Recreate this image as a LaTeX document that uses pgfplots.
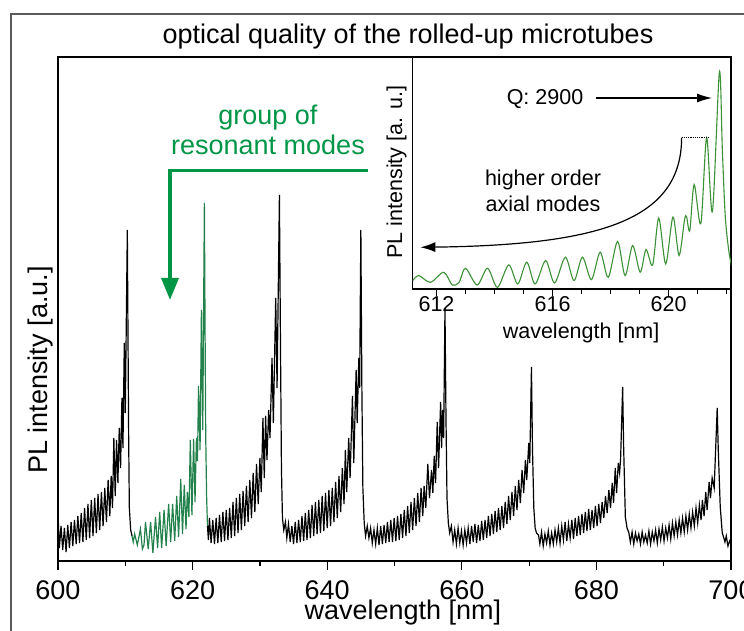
\documentclass[border=0pt]{standalone}
\usepackage{pgfplots}
\pgfplotsset{compat=1.18}
\usepackage{fontspec}
\setmainfont{Liberation Sans}
\usetikzlibrary{arrows.meta}
\definecolor{annot}{RGB}{0,150,70}
\definecolor{maingreen}{RGB}{35,130,75}
\definecolor{insetgreen}{RGB}{60,145,55}
\definecolor{framegray}{RGB}{90,90,90}
\newcommand\bigf{\fontsize{27}{30}\selectfont}
\newcommand\smallf{\fontsize{21.5}{25.5}\selectfont}
\begin{document}
\begin{tikzpicture}[x=1pt,y=1pt]
\draw[framegray, line width=1.5pt] (11,-30) rectangle (800,616);
\begin{axis}[
  at={(58pt,69pt)}, anchor=south west, scale only axis,
  width=673pt, height=504pt,
  xmin=600, xmax=700, ymin=27, ymax=531,
  xtick={600,620,640,660,680,700},
  minor xtick={610,630,650,670,690},
  ytick=\empty, xtick pos=bottom, tick align=outside,
  major tick length=9pt, minor tick length=5pt,
  every tick/.style={black, line width=1.2pt},
  axis line style={line width=1.3pt},
  /pgf/number format/assume math mode=true,
  xticklabel style={font=\bigf, anchor=base, inner sep=0pt, yshift=-29pt},
  title={optical quality of the rolled-up microtubes},
  title style={font=\bigf, at={(axis description cs:0.52,1.0139)}, anchor=base},
  xlabel={wavelength [nm]},
  xlabel style={font=\bigf, inner sep=0pt, at={(axis description cs:0.5126,-0.117)}, anchor=base},
  ylabel={PL intensity [a.u.]},
  ylabel style={font=\bigf, at={(axis description cs:-0.0163,0.379)}, anchor=base},
]
\addplot[black, line width=1.2pt] coordinates {
(600.0,75)(600.2,40)(600.45,62)(600.7,38)(600.95,60)(601.2,36)(601.45,63)(601.7,40)(601.95,66)(602.2,42)
(602.45,68)(602.7,44)(602.95,72)(603.2,45)(603.45,75)(603.7,46)(603.95,80)(604.2,48)(604.45,84)(604.7,50)
(604.95,88)(605.2,52)(605.45,90)(605.7,55)(605.95,94)(606.2,58)(606.45,96)(606.7,62)(606.95,100)(607.2,66)
(607.45,108)(607.7,72)(607.9,112)(608.1,80)(608.3,150)(608.5,92)(608.7,148)(608.9,105)(609.1,160)(609.3,120)
(609.5,190)(609.65,140)(609.85,245)(610.0,175)(610.3,358)(610.5,150)(610.6,80)(610.8,58)(611.0,52)
};
\addplot[maingreen, line width=1.2pt] coordinates {
(611.0,52)(611.18,46)(611.39,54)(611.79,43)(612.25,59)(612.54,39)(612.78,43)(613.0,66)(613.4,39)(613.76,66)
(614.1,35)(614.49,71)(614.8,40)(615.11,76)(615.4,40)(615.76,78)(616.07,42)(616.44,84)(616.74,46)(617.03,84)
(617.34,47)(617.64,92)(617.92,51)(618.24,109)(618.5,54)(618.76,103)(619.02,59)(619.22,96)(619.45,71)(619.66,148)
(619.9,73)(620.15,149)(620.36,86)(620.55,145)(620.62,150)(620.73,127)(620.88,202)(621.11,138)(621.31,278)(621.51,158)
(621.75,385)(621.85,261)(621.95,152)(622.08,92)(622.21,62)
};
\addplot[black, line width=1.2pt] coordinates {
(622.21,62)(622.35,48)(622.5,70)(622.75,45)(623.0,68)(623.25,44)(623.5,70)(623.75,45)(624.0,73)(624.25,46)
(624.5,76)(624.75,47)(625.0,78)(625.25,48)(625.5,80)(625.75,50)(626.0,86)(626.25,52)(626.5,90)(626.75,55)
(627.0,94)(627.25,58)(627.5,97)(627.75,62)(628.0,102)(628.25,66)(628.5,108)(628.75,70)(629.0,115)(629.25,76)
(629.5,124)(629.75,84)(630.0,130)(630.2,96)(630.45,170)(630.65,110)(630.85,172)(631.05,128)(631.3,178)(631.5,150)
(631.8,230)(632.0,165)(632.35,290)(632.55,200)(632.9,393)(633.05,250)(633.2,120)(633.35,70)(633.55,58)
(633.8,66)(634.0,50)(634.25,64)(634.5,46)(634.75,62)(635.0,44)(635.25,66)(635.5,45)(635.75,68)(636.0,46)
(636.25,72)(636.5,47)(636.75,75)(637.0,48)(637.25,78)(637.5,50)(637.75,83)(638.0,52)(638.25,86)(638.5,54)
(638.75,88)(639.0,55)(639.25,92)(639.5,57)(639.75,95)(640.0,60)(640.25,98)(640.5,62)(640.75,100)(641.0,66)
(641.25,106)(641.5,70)(641.75,112)(642.0,76)(642.25,120)(642.5,84)(642.7,138)(642.9,96)(643.2,150)(643.4,110)
(643.75,192)(643.95,125)(644.3,218)(644.45,165)(644.7,230)(644.82,200)(645.0,358)(645.15,200)(645.3,100)(645.5,65)
(645.7,52)(645.95,62)(646.2,50)(646.45,60)(646.7,45)(646.95,58)(647.2,44)(647.45,60)(647.7,43)(647.95,62)
(648.2,44)(648.45,63)(648.7,45)(648.95,66)(649.2,46)(649.45,68)(649.7,46)(649.95,70)(650.2,47)(650.45,72)
(650.7,48)(650.95,74)(651.2,50)(651.45,78)(651.7,52)(651.95,82)(652.2,55)(652.45,86)(652.7,58)(652.95,90)
(653.2,62)(653.45,95)(653.7,66)(653.95,100)(654.2,72)(654.4,102)(654.65,80)(654.95,124)(655.2,90)(655.5,118)
(655.7,95)(655.9,132)(656.1,105)(656.35,166)(656.55,120)(656.85,186)(657.0,140)(657.15,178)(657.3,150)(657.5,280)
(657.65,170)(657.8,90)(658.0,65)(658.2,55)
(658.45,62)(658.7,46)(658.95,58)(659.2,44)(659.45,60)(659.7,45)(659.95,57)(660.2,43)(660.45,58)(660.7,45)
(660.95,60)(661.2,44)(661.45,62)(661.7,46)(661.95,64)(662.2,45)(662.45,63)(662.7,47)(662.95,67)(663.2,48)
(663.45,68)(663.7,50)(663.95,72)(664.2,52)(664.45,74)(664.7,54)(664.95,77)(665.2,56)(665.45,80)(665.7,58)
(665.95,82)(666.2,60)(666.45,86)(666.7,64)(666.95,92)(667.2,68)(667.45,96)(667.7,72)(667.95,102)(668.2,78)
(668.45,108)(668.7,85)(668.95,118)(669.2,95)(669.45,128)(669.65,108)(669.95,145)(670.1,125)(670.35,221)(670.5,140)
(670.7,80)(670.9,60)(671.1,55)(671.4,53)
(671.6,44)(671.85,56)(672.1,42)(672.35,54)(672.6,45)(672.85,57)(673.1,43)(673.35,55)(673.6,44)(673.85,58)
(674.1,46)(674.35,60)(674.6,45)(674.85,62)(675.1,48)(675.35,66)(675.6,47)(675.85,64)(676.1,50)(676.35,68)
(676.6,49)(676.85,70)(677.1,52)(677.35,72)(677.6,53)(677.85,74)(678.1,55)(678.35,76)(678.6,57)(678.85,79)
(679.1,58)(679.35,78)(679.6,60)(679.85,82)(680.1,62)(680.35,84)(680.6,65)(680.85,86)(681.1,70)(681.35,92)
(681.6,75)(681.85,98)(682.1,80)(682.35,105)(682.55,85)(682.8,120)(683.0,95)(683.25,125)(683.45,115)(683.6,130)
(683.9,201)(684.05,140)(684.3,71)(684.55,60)(684.8,56)
(685.05,46)(685.3,56)(685.55,44)(685.8,55)(686.05,47)(686.3,54)(686.55,44)(686.8,56)(687.05,46)(687.3,53)
(687.55,45)(687.8,57)(688.05,44)(688.3,56)(688.55,47)(688.8,58)(689.05,45)(689.3,59)(689.55,48)(689.8,61)
(690.05,47)(690.3,60)(690.55,50)(690.8,63)(691.05,49)(691.3,65)(691.55,52)(691.8,66)(692.05,53)(692.3,68)
(692.55,55)(692.8,70)(693.05,56)(693.3,72)(693.55,58)(693.8,74)(694.05,60)(694.3,76)(694.55,62)(694.8,80)
(695.05,65)(695.3,83)(695.55,68)(695.75,88)(696.0,72)(696.25,96)(696.45,78)(696.75,106)(696.95,90)(697.2,110)
(697.5,100)(697.95,180)(698.1,140)(698.4,81)(698.7,55)(698.9,51)(699.1,46)(699.3,52)(699.55,42)(699.8,47)(700.0,44)
};
\end{axis}
\begin{axis}[
  at={(412.7pt,341pt)}, anchor=south west, scale only axis,
  width=318.3pt, height=232pt,
  xmin=611.18, xmax=622.15, ymin=0, ymax=693,
  axis background/.style={fill=white},
  xtick={612,616,620},
  minor xtick={611,612,613,614,615,616,617,618,619,620,621,622},
  ytick=\empty, xtick pos=bottom, tick align=outside,
  major tick length=7pt, minor tick length=4.5pt,
  every tick/.style={black, line width=1.1pt},
  axis line style={line width=1.2pt},
  /pgf/number format/assume math mode=true,
  xticklabel style={font=\smallf, anchor=base, inner sep=0pt, yshift=-15pt},
  xlabel={wavelength [nm]},
  xlabel style={font=\smallf, inner sep=0pt, at={(axis description cs:0.529,-0.2155)}, anchor=base},
  ylabel={PL intensity [a. u.]},
  ylabel style={font=\smallf, at={(axis description cs:-0.0336,0.504)}, anchor=base},
]
\addplot[insetgreen, line width=1.1pt, smooth] coordinates {
(611.18,25)(611.39,40)(611.79,20)(612.25,50)(612.54,12)(612.78,20)(613.0,62)(613.4,12)(613.76,62)(614.1,5)
(614.49,72)(614.8,15)(615.11,80)(615.4,15)(615.76,85)(616.07,18)(616.44,95)(616.74,25)(617.03,95)(617.34,28)
(617.64,110)(617.92,35)(618.24,142)(618.5,40)(618.76,130)(619.02,50)(619.22,118)(619.45,72)(619.66,212)(619.9,75)
(620.15,215)(620.36,100)(620.55,208)(620.62,215)(620.73,175)(620.88,312)(621.11,195)(621.31,452)(621.51,232)(621.75,648)
(621.85,420)(621.95,220)(622.08,110)(622.21,55)
};
\end{axis}
\draw[annot, line width=3.5pt, -{Triangle[length=22pt,width=17pt]}] (368,459.3) -- (170,459.3) -- (170,330);
\node[annot, font=\bigf, align=center] at (268,500) {group of\\resonant modes};
\node[font=\smallf] at (545,531) {Q: 2900};
\draw[line width=1.2pt, -{Latex[length=15pt,width=9pt]}] (596,532) -- (712,532);
\draw[densely dotted, line width=1.2pt] (681.6,492.3) -- (708.6,492.3);
\draw[line width=1.2pt, -{Latex[length=15pt,width=10pt]}] (681.6,492.3) .. controls (681.6,410) and (600,385) .. (420.4,382.7);
\node[font=\smallf, align=center] at (543,439) {higher order\\axial modes};
\pgfresetboundingbox
\useasboundingbox (0,0) rectangle (744,630);
\end{tikzpicture}
\end{document}
